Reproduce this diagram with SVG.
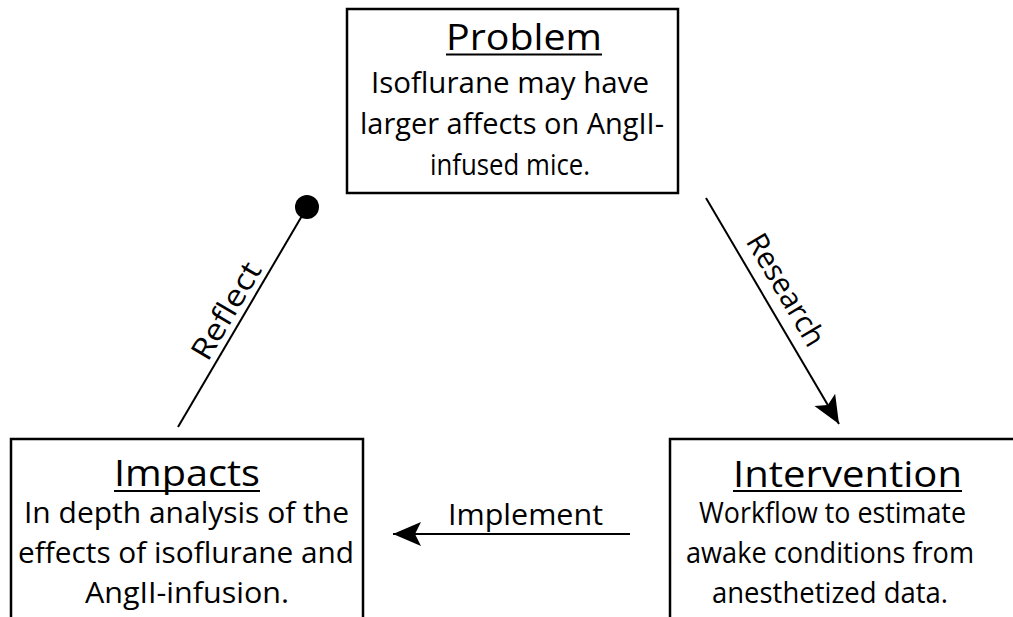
<svg xmlns="http://www.w3.org/2000/svg" width="1013" height="617" viewBox="0 0 1013 617">
<style>
.box{fill:#fff;stroke:#000;stroke-width:2.5}
text{font-family:"Open Sans","Liberation Sans",sans-serif;font-weight:500;text-anchor:middle;fill:#000}
.title{font-size:37px}
.body{font-size:28.5px}
.lbl{font-size:30px}
.ul{stroke:#000;stroke-width:2}
.conn{stroke:#000;stroke-width:2;fill:none}
</style>
<defs>
<marker id="arrow" viewBox="0 0 30 26" refX="28" refY="13" markerWidth="30" markerHeight="26" markerUnits="userSpaceOnUse" orient="auto">
<path d="M0,1 L28,13 L0,25 L6,13 Z" fill="#000"/>
</marker>
</defs>
<rect width="1013" height="617" fill="#fff"/>
<g id="problem">
<rect class="box" x="347" y="9" width="331" height="184"/>
<text class="title" x="524" y="50" textLength="156" lengthAdjust="spacingAndGlyphs">Problem</text>
<line class="ul" x1="446" y1="54.5" x2="602" y2="54.5"/>
<text class="body" x="510" y="93" textLength="278" lengthAdjust="spacingAndGlyphs">Isoflurane may have</text>
<text class="body" x="512" y="134" textLength="304" lengthAdjust="spacingAndGlyphs">larger affects on AngII-</text>
<text class="body" x="510" y="175" textLength="160" lengthAdjust="spacingAndGlyphs">infused mice.</text>
</g>
<g id="impacts">
<rect class="box" x="11" y="439" width="352" height="200"/>
<text class="title" x="187" y="486" textLength="146" lengthAdjust="spacingAndGlyphs">Impacts</text>
<line class="ul" x1="114" y1="491" x2="260" y2="491"/>
<text class="body" x="186.5" y="523" textLength="325" lengthAdjust="spacingAndGlyphs">In depth analysis of the</text>
<text class="body" x="186" y="563" textLength="336" lengthAdjust="spacingAndGlyphs">effects of isoflurane and</text>
<text class="body" x="187" y="603" textLength="204" lengthAdjust="spacingAndGlyphs">AngII-infusion.</text>
</g>
<g id="intervention">
<rect class="box" x="670" y="439" width="360" height="200"/>
<text class="title" x="847.5" y="487" textLength="229" lengthAdjust="spacingAndGlyphs">Intervention</text>
<line class="ul" x1="733" y1="491" x2="962" y2="491"/>
<text class="body" x="832.5" y="523" textLength="267" lengthAdjust="spacingAndGlyphs">Workflow to estimate</text>
<text class="body" x="830" y="563" textLength="288" lengthAdjust="spacingAndGlyphs">awake conditions from</text>
<text class="body" x="830" y="603" textLength="236" lengthAdjust="spacingAndGlyphs">anesthetized data.</text>
</g>
<g id="connectors">
<line class="conn" x1="706" y1="198" x2="839" y2="424" marker-end="url(#arrow)"/>
<text class="lbl" transform="translate(777,295) rotate(59.5)" textLength="125" lengthAdjust="spacingAndGlyphs">Research</text>
<line class="conn" x1="630" y1="534" x2="393" y2="534" marker-end="url(#arrow)"/>
<text class="lbl" x="525.5" y="525" textLength="155" lengthAdjust="spacingAndGlyphs">Implement</text>
<line class="conn" x1="178" y1="427" x2="306" y2="209"/>
<circle cx="307" cy="207" r="12" fill="#000"/>
<text class="lbl" transform="translate(235,316) rotate(-59.6)" textLength="108" lengthAdjust="spacingAndGlyphs">Reflect</text>
</g>
</svg>
